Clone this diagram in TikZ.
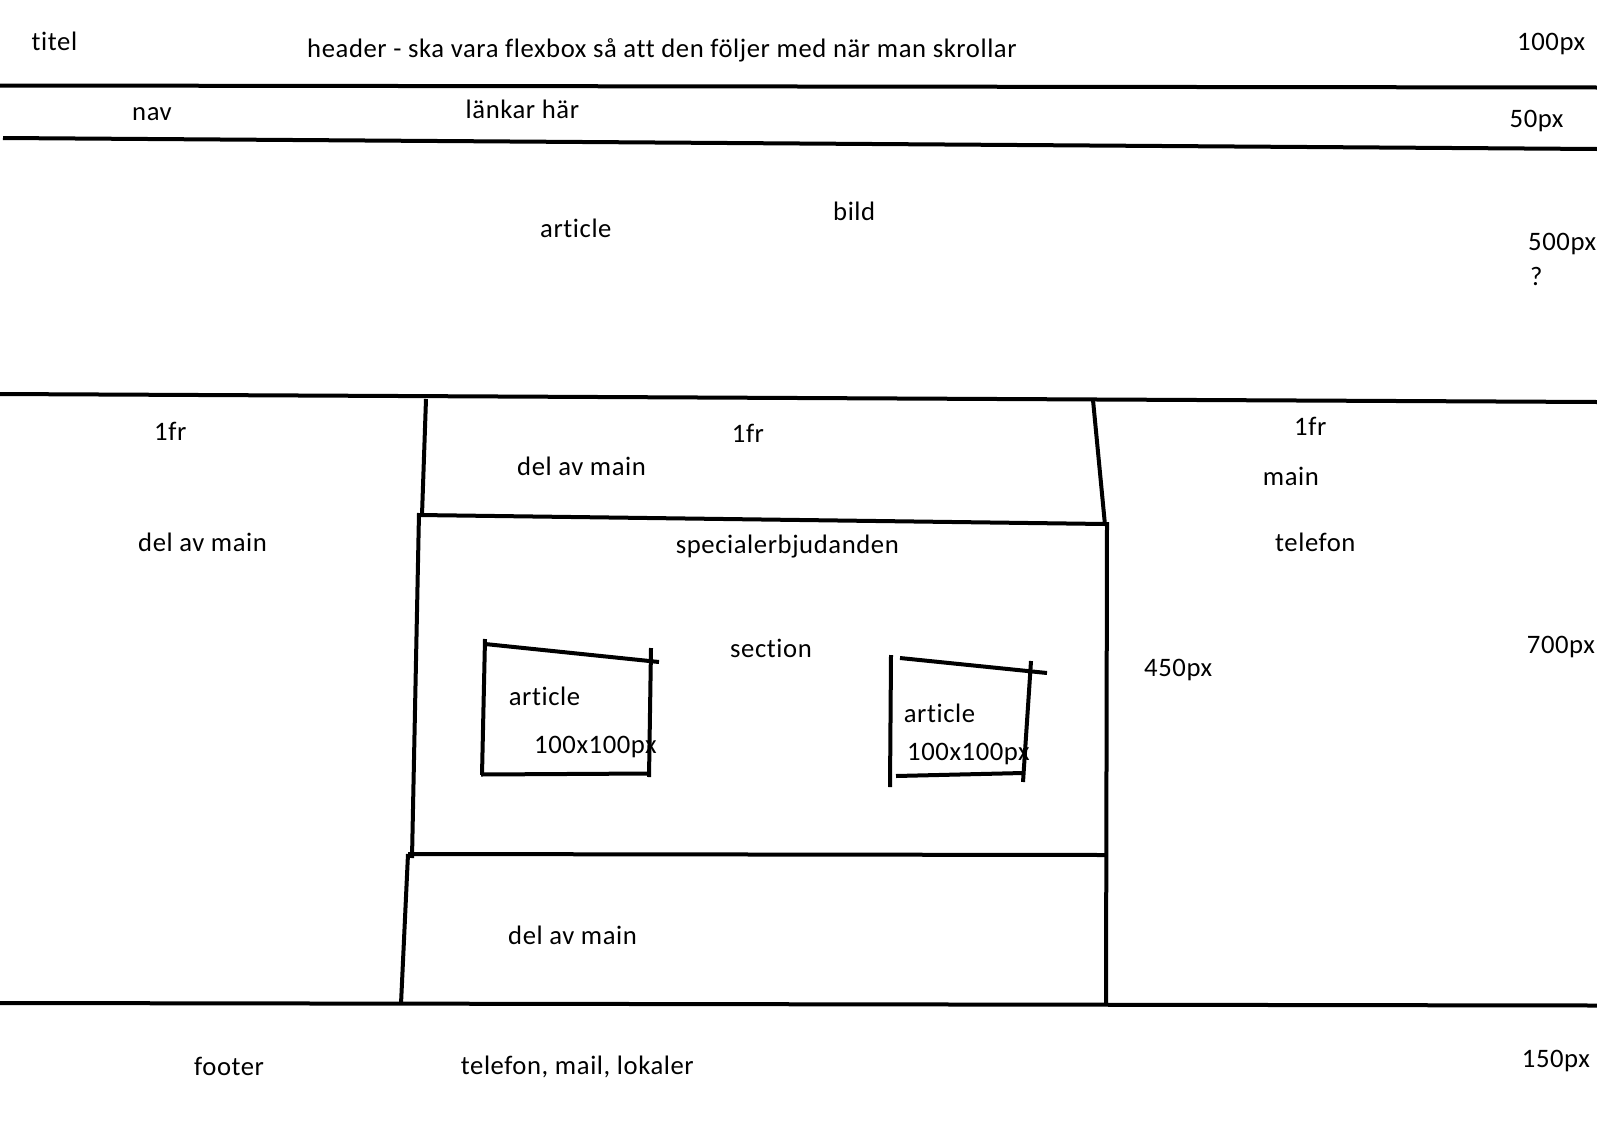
\documentclass[tikz,border=0pt]{standalone}
\usepackage{fontspec}
\setmainfont{Carlito}[Ligatures={NoCommon}, LetterSpace=2.2]

\tikzset{
    pen/.style={line width=4pt},
    lbl/.style={anchor=base west, inner sep=0pt, font=\fontsize{26.67}{32}\selectfont}
}

\begin{document}
\begin{tikzpicture}[x=1pt,y=-1pt]
    \useasboundingbox (0,0) rectangle (1597,1127);

    % header and nav
    \node[lbl] (titel) at (31.5,50.7) {titel};
    \node[lbl] (header) at (307,57.7) {header - ska vara flexbox så att den följer med när man skrollar};
    \node[lbl] (hpx) at (1517,50) {100px};
    \node[lbl] (nav) at (132,120.7) {nav};
    \node[lbl] (links) at (465.5,118) {länkar här};
    \node[lbl] (npx) at (1509.5,127.7) {50px};

    % bild
    \node[lbl] (topart) at (540,237.7) {article};
    \node[lbl] (bild) at (833,220.7) {bild};
    \node[lbl] (bpx) at (1528,250) {500px};
    \node[lbl] (bq) at (1530,285) {?};

    % main columns
    \node[lbl] (frleft) at (154,440) {1fr};
    \node[lbl] (frmid) at (731.7,442.7) {1fr};
    \node[lbl] (frright) at (1294,435.7) {1fr};
    \node[lbl] (delleft) at (138,551) {del av main};
    \node[lbl] (deltop) at (517,475) {del av main};
    \node[lbl] (offers) at (675.6,553) {specialerbjudanden};
    \node[lbl] (mainr) at (1262.7,485) {main};
    \node[lbl] (tel) at (1275,551.7) {telefon};
    \node[lbl] (mpx) at (1526.7,653) {700px};
    \node[lbl] (spx) at (1144,676) {450px};
    \node[lbl] (section) at (730,657) {section};
    \node[lbl] (artl) at (508.6,705.7) {article};
    \node[lbl] (sizel) at (534,753.5) {100x100px};
    \node[lbl] (artr) at (903.6,722) {article};
    \node[lbl] (sizer) at (907,760) {100x100px};
    \node[lbl] (delbot) at (508,944) {del av main};

    % footer
    \node[lbl] (footer) at (194,1075) {footer};
    \node[lbl] (contact) at (460.7,1074.6) {telefon, mail, lokaler};
    \node[lbl] (fpx) at (1521.7,1067.7) {150px};

    % rows
    \draw[pen] (0,85.5) -- (1597,87.5);
    \draw[pen] (3,138) -- (1597,149);
    \draw[pen] (0,394) -- (1597,402);
    \draw[pen] (0,1003) -- (1597,1005.5);

    % middle column
    \draw[pen] (426,399) -- (422,515);
    \draw[pen] (419,515) -- (1105,524);
    \draw[pen] (1093,400) -- (1105,525);
    \draw[pen] (1107,522) -- (1106,1005);
    \draw[pen] (419,513) -- (412,858);
    \draw[pen] (408,854) -- (1106,855);
    \draw[pen] (408,854) -- (401,1004);

    % articles
    \draw[pen] (485,639) -- (482,775);
    \draw[pen] (485,644) -- (659,662);
    \draw[pen] (651,648) -- (649,777);
    \draw[pen] (481,774.5) -- (649,773.5);
    \draw[pen] (891,655) -- (890,787);
    \draw[pen] (900,658) -- (1047,673);
    \draw[pen] (1031,661) -- (1023,782);
    \draw[pen] (896,776) -- (1023,773);
\end{tikzpicture}
\end{document}
